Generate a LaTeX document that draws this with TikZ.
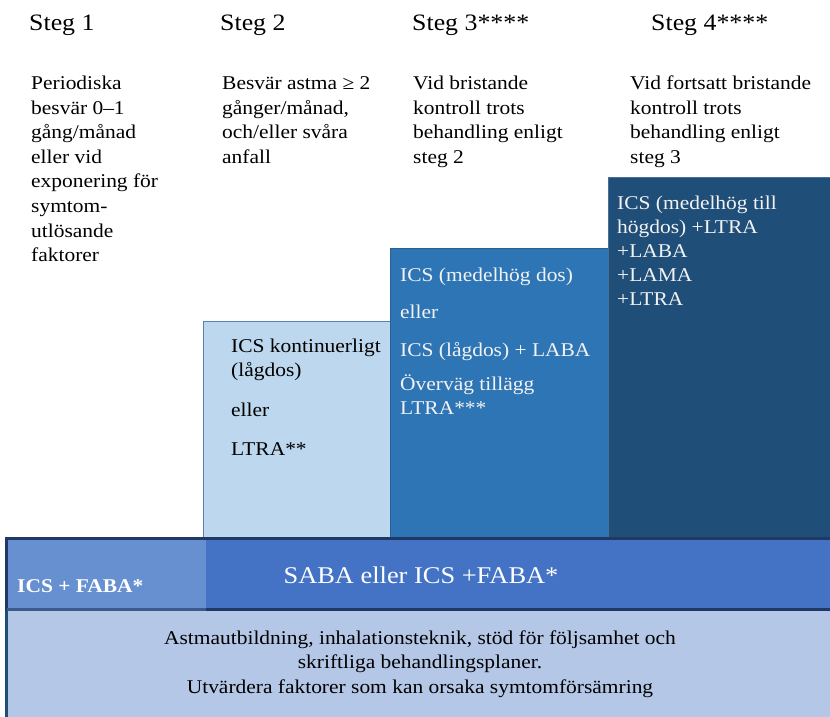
\documentclass[tikz,border=0pt]{standalone}
\usepackage{fontspec}
\setmainfont{Liberation Serif}[FakeStretch=1.1]
\definecolor{boxtwo}{HTML}{BDD7EE}
\definecolor{boxtwoline}{HTML}{5B82AE}
\definecolor{boxthree}{HTML}{2E75B6}
\definecolor{boxthreeline}{HTML}{2A5F91}
\definecolor{boxfour}{HTML}{1F4E79}
\definecolor{boxfourline}{HTML}{4A6F96}
\definecolor{bandright}{HTML}{4472C4}
\definecolor{bandleft}{HTML}{6690D0}
\definecolor{bandline}{HTML}{1F3864}
\definecolor{basefill}{HTML}{B4C7E7}
\definecolor{lighttext}{HTML}{F2F2F2}
\tikzset{
  title/.style={anchor=base west, inner sep=0pt, font=\fontsize{23.5}{28}\selectfont},
  desc/.style={anchor=base west, inner sep=0pt, align=left, font=\fontsize{19.5}{24.6}\selectfont},
  boxtext/.style={anchor=base west, inner sep=0pt, align=left, font=\fontsize{19.5}{24}\selectfont},
}
\begin{document}
\begin{tikzpicture}[x=1pt,y=-1pt]
\useasboundingbox (0,0) rectangle (830,717);
\fill[white] (0,0) rectangle (830,717);

% step boxes
\draw[fill=boxtwo, draw=boxtwoline, line width=1.2pt] (203.5,321.5) rectangle (392,540);
\draw[fill=boxthree, draw=boxthreeline, line width=1.2pt] (390.5,248.5) rectangle (610,540);
\draw[fill=boxfour, draw=boxfourline, line width=1.2pt] (608.5,177.5) rectangle (832,540);

% band
\fill[bandright] (5,538) rectangle (830,610);
\fill[bandleft] (7,540) rectangle (206,608);
\draw[bandline, line width=3pt] (830,538.5) -- (6,538.5) -- (6,717);
\draw[bandline, line width=3pt] (206,609.5) -- (830,609.5);
\draw[bandline!60!bandleft, line width=3pt] (7,609.5) -- (206,609.5);
% base box
\fill[basefill] (7.5,611) rectangle (830,717);
\draw[boxfour, line width=3pt] (6,611) -- (6,717);

% titles
\node[title] (s1) at (29,31) {Steg 1};
\node[title] (s2) at (220,31) {Steg 2};
\node[title] (s3) at (412,31) {Steg 3****};
\node[title] (s4) at (651,31) {Steg 4****};

% descriptions (anchor = baseline of last line)
\node[desc] (d1) at (31,261.7) {Periodiska\\besvär 0–1\\gång/månad\\eller vid\\exponering för\\symtom-\\utlösande\\faktorer};
\node[desc] (d2) at (222,163.3) {Besvär astma ≥ 2\\gånger/månad,\\och/eller svåra\\anfall};
\node[desc] (d3) at (413,163.3) {Vid bristande\\kontroll trots\\behandling enligt\\steg 2};
\node[desc] (d4) at (630,163.3) {Vid fortsatt bristande\\kontroll trots\\behandling enligt\\steg 3};

% box texts
\node[boxtext] (t2a) at (231,376) {ICS kontinuerligt\\(lågdos)};
\node[boxtext] (t2b) at (231,416) {eller};
\node[boxtext] (t2c) at (231,455) {LTRA**};

\node[boxtext, text=lighttext] (t3a) at (400,281) {ICS (medelhög dos)};
\node[boxtext, text=lighttext] (t3b) at (400,318) {eller};
\node[boxtext, text=lighttext] (t3c) at (400,356) {ICS (lågdos) + LABA};
\node[boxtext, text=lighttext] (t3d) at (400,414) {Överväg tillägg\\LTRA***};

\node[boxtext, text=lighttext] (t4) at (617,305) {ICS (medelhög till\\högdos) +LTRA\\+LABA\\+LAMA\\+LTRA};

% band texts
\node[anchor=base west, inner sep=0pt, text=white, font=\fontsize{19.5}{22}\selectfont\bfseries] (bl) at (17,592) {ICS + FABA*};
\node[anchor=base, inner sep=0pt, text=white, font=\fontsize{24}{28}\selectfont] (br) at (421,583) {SABA eller ICS +FABA*};

% base text
\node[anchor=base, inner sep=0pt, align=center, font=\fontsize{19.5}{24.5}\selectfont] (bt) at (420,693) {Astmautbildning, inhalationsteknik, stöd för följsamhet och\\skriftliga behandlingsplaner.\\Utvärdera faktorer som kan orsaka symtomförsämring};
\end{tikzpicture}
\end{document}
